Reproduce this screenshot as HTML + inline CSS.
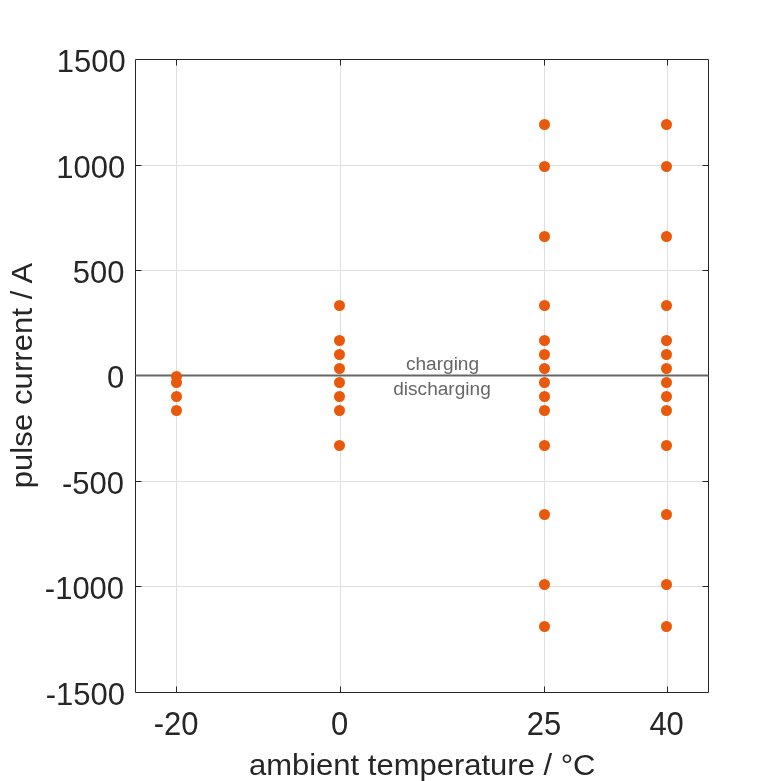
<!DOCTYPE html>
<html lang="en"><head><meta charset="utf-8"><title>pulse current vs ambient temperature</title>
<style>html,body{margin:0;padding:0;background:#fff;overflow:hidden}body{width:781px;height:781px}</style></head>
<body>
<svg width="781" height="781" viewBox="0 0 781 781" style="display:block;font-family:'Liberation Sans',Arial,sans-serif">
<rect width="781" height="781" fill="#fff"/>
<path d="M176.50 59.5V692.5M340.50 59.5V692.5M544.50 59.5V692.5M667.50 59.5V692.5M135.5 586.50H708.5M135.5 481.50H708.5M135.5 270.50H708.5M135.5 165.50H708.5" stroke="#dfdfdf" stroke-width="1" fill="none"/>
<path d="M135.5 59.5H708.5V692.5H135.5ZM176.50 59.5v6M176.50 692.5v-6M340.50 59.5v6M340.50 692.5v-6M544.50 59.5v6M544.50 692.5v-6M667.50 59.5v6M667.50 692.5v-6M135.5 586.50h6M708.5 586.50h-6M135.5 481.50h6M708.5 481.50h-6M135.5 375.50h6M708.5 375.50h-6M135.5 270.50h6M708.5 270.50h-6M135.5 165.50h6M708.5 165.50h-6" stroke="#262626" stroke-width="1" fill="none"/>
<line x1="135.5" x2="708.5" y1="375.5" y2="375.5" stroke="#666" stroke-width="2"/>
<g fill="#e8590c">
<circle cx="176.5" cy="376.5" r="5.5"/>
<circle cx="176.5" cy="382.5" r="5.5"/>
<circle cx="176.5" cy="396.5" r="5.5"/>
<circle cx="176.5" cy="410.5" r="5.5"/>
<circle cx="339.5" cy="305.5" r="5.5"/>
<circle cx="339.5" cy="340.5" r="5.5"/>
<circle cx="339.5" cy="354.5" r="5.5"/>
<circle cx="339.5" cy="368.5" r="5.5"/>
<circle cx="339.5" cy="382.5" r="5.5"/>
<circle cx="339.5" cy="396.5" r="5.5"/>
<circle cx="339.5" cy="410.5" r="5.5"/>
<circle cx="339.5" cy="445.5" r="5.5"/>
<circle cx="544.5" cy="124.5" r="5.5"/>
<circle cx="544.5" cy="166.5" r="5.5"/>
<circle cx="544.5" cy="236.5" r="5.5"/>
<circle cx="544.5" cy="305.5" r="5.5"/>
<circle cx="544.5" cy="340.5" r="5.5"/>
<circle cx="544.5" cy="354.5" r="5.5"/>
<circle cx="544.5" cy="368.5" r="5.5"/>
<circle cx="544.5" cy="382.5" r="5.5"/>
<circle cx="544.5" cy="396.5" r="5.5"/>
<circle cx="544.5" cy="410.5" r="5.5"/>
<circle cx="544.5" cy="445.5" r="5.5"/>
<circle cx="544.5" cy="514.5" r="5.5"/>
<circle cx="544.5" cy="584.5" r="5.5"/>
<circle cx="544.5" cy="626.5" r="5.5"/>
<circle cx="666.5" cy="124.5" r="5.5"/>
<circle cx="666.5" cy="166.5" r="5.5"/>
<circle cx="666.5" cy="236.5" r="5.5"/>
<circle cx="666.5" cy="305.5" r="5.5"/>
<circle cx="666.5" cy="340.5" r="5.5"/>
<circle cx="666.5" cy="354.5" r="5.5"/>
<circle cx="666.5" cy="368.5" r="5.5"/>
<circle cx="666.5" cy="382.5" r="5.5"/>
<circle cx="666.5" cy="396.5" r="5.5"/>
<circle cx="666.5" cy="410.5" r="5.5"/>
<circle cx="666.5" cy="445.5" r="5.5"/>
<circle cx="666.5" cy="514.5" r="5.5"/>
<circle cx="666.5" cy="584.5" r="5.5"/>
<circle cx="666.5" cy="626.5" r="5.5"/>
</g>
<g font-size="31" fill="#262626">
<text transform="translate(125.0 704.50) scale(1 1.035)" text-anchor="end">-1500</text>
<text transform="translate(124.1 598.50) scale(1 1.035)" text-anchor="end">-1000</text>
<text transform="translate(124.0 493.50) scale(1 1.035)" text-anchor="end">-500</text>
<text transform="translate(124.2 387.50) scale(1 1.035)" text-anchor="end">0</text>
<text transform="translate(124.5 282.50) scale(1 1.035)" text-anchor="end">500</text>
<text transform="translate(125.3 177.50) scale(1 1.035)" text-anchor="end">1000</text>
<text transform="translate(125.8 71.50) scale(1 1.035)" text-anchor="end">1500</text>
<text transform="translate(176.1 734.9) scale(1 1.09)" text-anchor="middle">-20</text>
<text transform="translate(339.5 734.9) scale(1 1.09)" text-anchor="middle">0</text>
<text transform="translate(543.9 734.9) scale(1 1.09)" text-anchor="middle">25</text>
<text transform="translate(666.6 734.9) scale(1 1.09)" text-anchor="middle">40</text>
</g>
<g font-size="31" fill="#262626">
<text transform="translate(422.2 775.3) scale(1 0.975)" text-anchor="middle">ambient temperature / °C</text>
<text transform="translate(31.6 375.5) rotate(-90) scale(1 0.975)" text-anchor="middle" letter-spacing="0.1">pulse current / A</text>
</g>
<g font-size="19.1" fill="#666" text-anchor="middle">
<text transform="translate(442.5 370.1) scale(1 1.005)">charging</text>
<text transform="translate(442.0 395.0) scale(1 1.005)">discharging</text>
</g>
</svg>
</body></html>
